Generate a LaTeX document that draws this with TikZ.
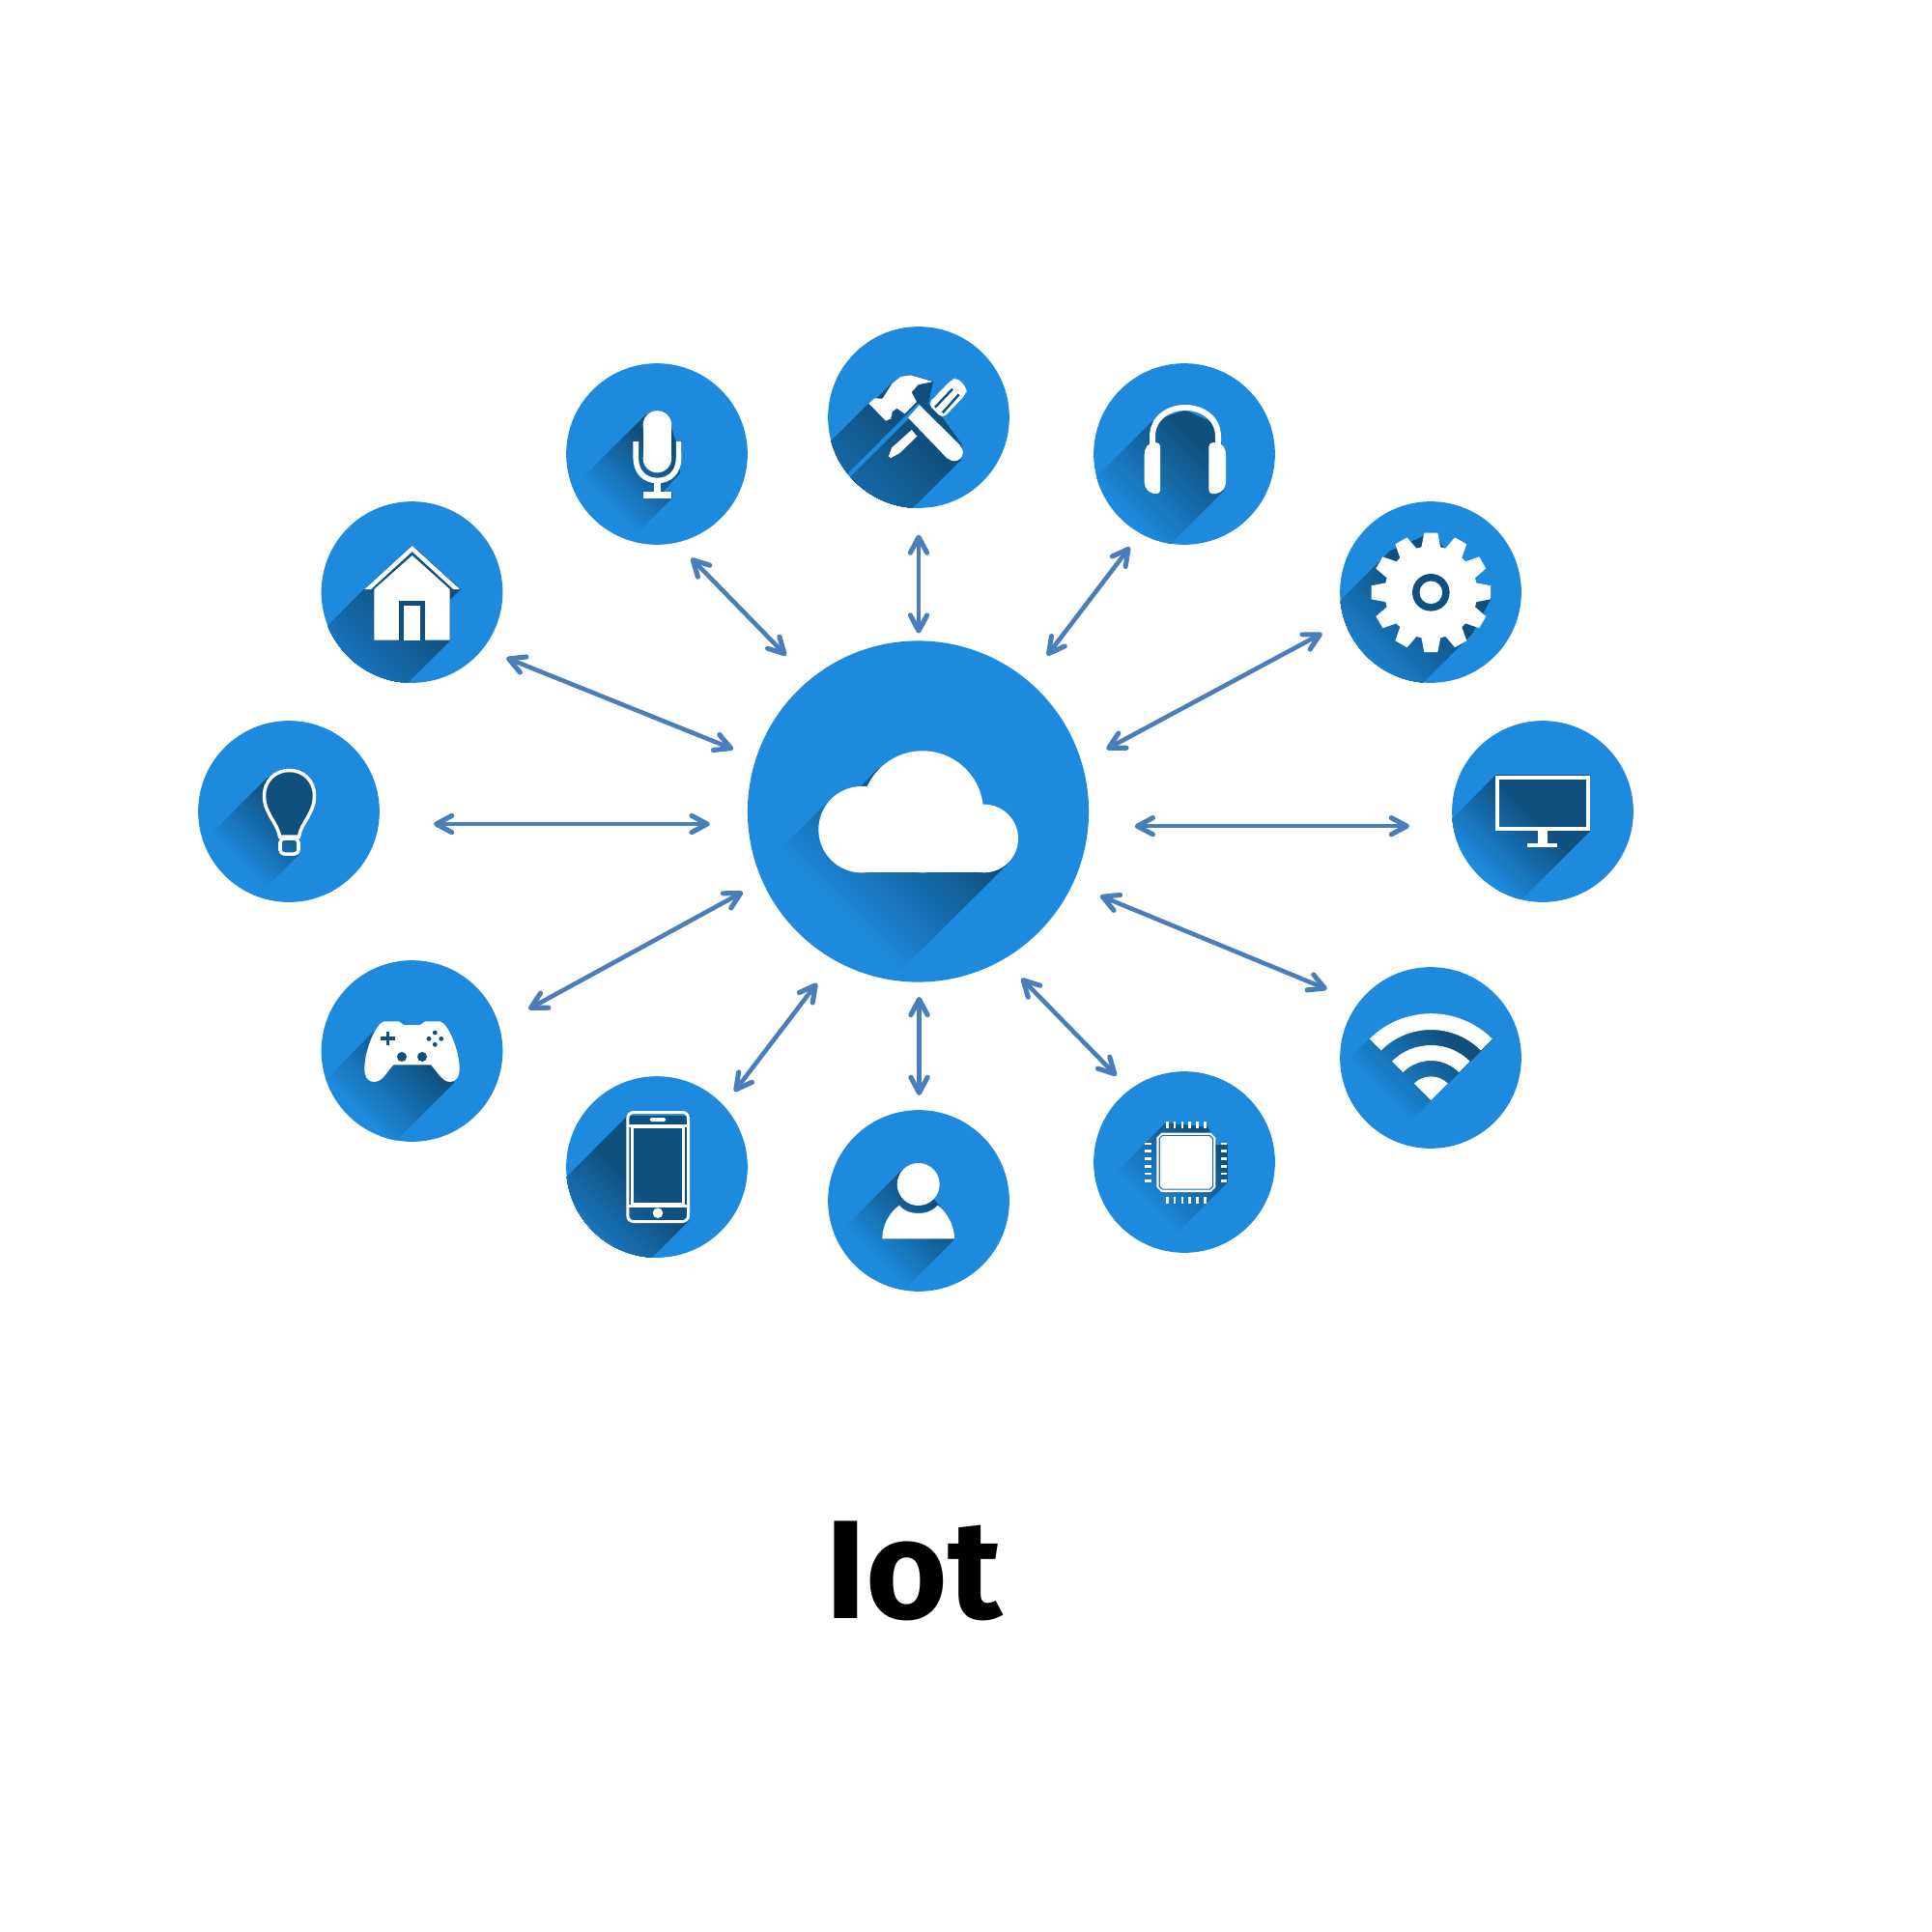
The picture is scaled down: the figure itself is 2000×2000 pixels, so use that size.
\documentclass[tikz,border=0pt]{standalone}
\usepackage{fontspec}
\newfontfamily\titlefont{Fira Sans}[BoldFont={Fira Sans Bold}]
\usetikzlibrary{arrows.meta}
\definecolor{blu}{HTML}{1D8ADD}
\definecolor{dk}{HTML}{10507F}
\definecolor{lnk}{HTML}{4A7EBB}
\definecolor{chipgap}{HTML}{1A68A5}
\tikzset{
  dev/.style={circle,fill=blu,draw=none,inner sep=0pt,outer sep=0pt,minimum size=1.876cm},
  hub/.style={circle,fill=blu,draw=none,inner sep=0pt,outer sep=0pt,minimum size=3.53cm},
  link/.style={draw=lnk,line width=1.3pt,{Straight Barb[length=4.6pt,width=4.9pt,line width=1.45pt,round]}-{Straight Barb[length=4.6pt,width=4.9pt,line width=1.45pt,round]}},
  ink/.style={fill=white,draw=none},
  inkline/.style={draw=white,fill=none}
}
% cx, cy, r, t0 (gradient starts), t1 (gradient full), polygon
\newcommand{\longshadow}[6]{%
  \begin{scope}
    \clip (#1,#2) circle[radius=#3];
    \clip #6;
    \foreach \k in {0,...,30}{%
      \pgfmathsetmacro\tneg{-(#4+(#5-#4)*\k/30)}%
      \pgfmathsetmacro\pp{100*\k/30}%
      \fill[dk!\pp!blu,shift={(#1,#2)},rotate=45] (\tneg,-400) rectangle (400,400);
    }
  \end{scope}}
\begin{document}
\begin{tikzpicture}[x=0.01cm,y=-0.01cm]
\useasboundingbox (0,0) rectangle (2000,2000);
\fill[white] (0,0) rectangle (2000,2000);

% discs
\node[hub] (cloud) at (950.5,840) {};
\node[dev] (home) at (426.5,613) {};
\node[dev] (bulb) at (299,840) {};
\node[dev] (mic) at (680,470) {};
\node[dev] (tools) at (951,432) {};
\node[dev] (phones) at (1226,470) {};
\node[dev] (gear) at (1481,613) {};
\node[dev] (monitor) at (1597,840) {};
\node[dev] (wifi) at (1481,1095) {};
\node[dev] (chip) at (1226,1203) {};
\node[dev] (person) at (951,1243) {};
\node[dev] (phone) at (680,1208) {};
\node[dev] (pad) at (426.5,1088) {};

% ---------- cloud
\longshadow{950.5}{840}{176.5}{135}{-10}{(860,827) -- (560,1127) -- (743.6,1192.9) -- (1043.6,892.9) -- (955,841) -- (909.7,795.7) -- (893,812.4) -- (892,858) -- cycle}
\fill[ink] (892,858.7) circle[radius=44.7];
\fill[ink] (1018.7,868) circle[radius=35.3];
\fill[ink] (955,840.3) circle[radius=63];
\fill[ink] (892,840) rectangle (1018.7,903.3);

% ---------- home
\longshadow{426.5}{613}{93.8}{150}{10}{(377.3,610) -- (77.3,910) -- (165.7,962.7) -- (465.7,662.7) -- (465.7,620.3) -- (476,610) -- (426.7,565) -- cycle}
\fill[ink] (377.3,610) -- (426.7,565) -- (476,610) -- (469.3,610) -- (426.7,571) -- (384,610) -- cycle;
\fill[ink] (387.3,662.7) -- (387.3,610) -- (426.7,575) -- (465.7,610) -- (465.7,662.7) -- cycle;
\fill[dk] (413.3,621.7) rectangle (440,662.7);
\fill[ink] (418.3,627) rectangle (435,662.7);

% ---------- bulb
\longshadow{299}{840}{93.8}{75}{0}{(276,806) -- (-24,1106) -- (9,1184.5) -- (309,884.5) -- (310,866) -- (327,824) -- (299.5,796) -- cycle}
\draw[draw=white,fill=dk,line width=1pt] (289.5,866) .. controls (287.5,852) and (273.5,842) .. (273.5,824) .. controls (273.5,808) and (285,797.5) .. (299.5,797.5) .. controls (314,797.5) and (325.5,808) .. (325.5,824) .. controls (325.5,842) and (311.5,852) .. (309.5,866) -- cycle;
\draw[inkline,line width=1pt,rounded corners=1.2pt] (290,868) rectangle (309,884);

% ---------- mic
\longshadow{680}{470}{93.8}{75}{0}{(668,430) -- (368,730) -- (395.2,815.7) -- (695.2,515.7) -- (695.2,509.3) -- (686,509) -- (703,490) -- (706,457) -- (699,457) -- (694,441) -- (680.4,427) -- cycle}
\fill[ink] (680.4,440) circle[radius=14.8];
\fill[ink] (680.4,474.5) circle[radius=14.8];
\fill[ink] (665.6,440) rectangle (695.2,474.5);
\draw[inkline,line width=1.6pt] (658.2,457) -- (658.2,474) .. controls (658.2,489) and (668,497.5) .. (680.4,497.5) .. controls (693,497.5) and (702.6,489) .. (702.6,474) -- (702.6,457);
\fill[ink] (676.8,497) rectangle (684,510);
\fill[ink] (665.6,509.3) rectangle (695.2,515.7);

% ---------- tools
\longshadow{951}{432}{93.8}{210}{20}{(899.3,417.7) -- (599.3,717.7) -- (694,776) -- (994,476) -- (995,460) -- (975.8,433.3) -- (960.5,418.3) -- (965.6,395) -- (942,388) -- (923.3,397.3) -- (906,414.7) -- cycle}
\begin{scope}
  \clip (951,432) circle[radius=93.8];
  \draw[blu,line width=1.2pt] (951.8,419) -- (851.8,519);
\end{scope}
\fill[ink] (899.3,417.7) -- (905.4,412.3) -- (913.6,412.7) -- (923.3,397.3) -- (932.4,390) -- (942.7,388.3) -- (965.6,395) -- (950.3,398.3) -- (943.7,406) -- (948.8,416) -- (936.5,428.3) -- (928.4,422.7) -- (923.8,426) -- (922.2,433.3) -- (917.1,435.7) -- cycle;
\fill[ink] (951.8,419.3) -- (940,432.3) -- (981,475) -- (994,461) -- cycle;
\fill[ink] (987.8,468.3) circle[radius=9];
\fill[ink,rounded corners=1.5pt] (960.5,418.3) -- (985,393) -- (991,391) -- (1001,402) -- (1000,408) -- (975.8,433.3) -- cycle;
\draw[dk,line width=0.7pt] (968,421.7) -- (986,402.7);
\draw[dk,line width=0.7pt] (975.8,427.3) -- (992.7,408.3);
\fill[ink] (943.7,445) -- (949.3,451.7) -- (931.4,469) -- (922.2,474) -- (919.7,472.7) -- (923.3,463.3) -- cycle;

% ---------- headphones
\longshadow{1226}{470}{93.8}{90}{-15}{(1192.7,436.7) -- (892.7,736.7) -- (966,808) -- (1266,508) -- (1264,458) -- (1260,440) -- (1227,425) -- cycle}
\draw[inkline,line width=1.7pt] (1193,462) -- (1193,452) .. controls (1193,433) and (1209,422) .. (1227,422) .. controls (1245,422) and (1261,433) .. (1261,452) -- (1261,462);
\fill[ink,rounded corners=1.3pt] (1201.2,458) -- (1190,458) -- (1184.5,466) -- (1184.5,503) -- (1190,510.5) -- (1201.2,511.7) -- cycle;
\fill[ink,rounded corners=1.3pt] (1251.3,458) -- (1263.5,458) -- (1269.2,466) -- (1269.2,503) -- (1263.5,510.5) -- (1251.3,511.7) -- cycle;

% ---------- gear
\longshadow{1481}{613}{93.8}{115}{10}{(1438.9,570.9) -- (1138.9,870.9) -- (1223.7,955.7) -- (1523.7,655.7) -- (1543,620) -- (1481,552) -- cycle}
\fill[ink] (1481.3,613.3) circle[radius=48];
\foreach \a in {0,30,...,330}{
  \fill[ink,shift={(1481.3,613.3)},rotate=\a] (46,-10) -- (61.7,-7) -- (61.7,7) -- (46,10) -- cycle;
}
\fill[dk] (1481.3,613.3) circle[radius=19.3];
\fill[ink] (1481.3,613.3) circle[radius=11.8];

% ---------- monitor
\longshadow{1597}{840}{93.8}{90}{10}{(1548.3,802.8) -- (1248.3,1102.8) -- (1345.7,1160) -- (1645.7,860) -- (1645.7,802.8) -- cycle}
\draw[inkline,line width=1.15pt] (1550.3,804.8) rectangle (1643.7,858);
\fill[ink] (1591.7,860) rectangle (1602.3,873);
\fill[ink] (1581,872.5) rectangle (1612.3,877);

% ---------- wifi
\longshadow{1481}{1095}{93.8}{65}{-25}{(1417.7,1075.7) -- (1117.7,1375.7) -- (1244.7,1375.7) -- (1544.7,1075.7) -- (1481,1049) -- cycle}
\begin{scope}[shift={(1481.3,1139)}]
  \fill[ink] (-135:89.8) arc[start angle=-135,end angle=-45,radius=89.8] -- (-45:73) arc[start angle=-45,end angle=-135,radius=73] -- cycle;
  \fill[ink] (-135:57) arc[start angle=-135,end angle=-45,radius=57] -- (-45:41) arc[start angle=-45,end angle=-135,radius=41] -- cycle;
  \fill[ink] (0,0) -- (-135:24.6) arc[start angle=-135,end angle=-45,radius=24.6] -- cycle;
\end{scope}

% ---------- chip
\longshadow{1226}{1203}{93.8}{60}{-30}{(1206.7,1163) -- (906.7,1463) -- (970,1524) -- (1270,1224) -- (1270,1185) -- (1258.3,1185) -- (1250,1167) -- cycle}
\fill[ink] (1202.3,1172.7) -- (1253.3,1172.7) -- (1258.3,1177.7) -- (1258.3,1229) -- (1253.3,1234) -- (1202.3,1234) -- (1197.3,1229) -- (1197.3,1177.7) -- cycle;
\fill[chipgap] (1203,1175) -- (1252.6,1175) -- (1256,1178.4) -- (1256,1228.3) -- (1252.6,1231.7) -- (1203,1231.7) -- (1199.6,1228.3) -- (1199.6,1178.4) -- cycle;
\fill[ink] (1203.5,1176.2) -- (1252.1,1176.2) -- (1254.8,1178.9) -- (1254.8,1227.8) -- (1252.1,1230.5) -- (1203.5,1230.5) -- (1200.8,1227.8) -- (1200.8,1178.9) -- cycle;
\foreach \k in {0,...,5}{
  \pgfmathsetmacro\px{1208.3+7.8*\k}
  \pgfmathsetmacro\py{1184+7.73*\k}
  \fill[ink] (\px-1.3,1161.3) rectangle (\px+1.3,1167.7);
  \fill[ink] (\px-1.3,1239.3) rectangle (\px+1.3,1245.7);
  \fill[ink] (1185.3,\py-1.3) rectangle (1192,\py+1.3);
  \fill[ink] (1263.7,\py-1.3) rectangle (1270,\py+1.3);
}

% ---------- person
\longshadow{951}{1243}{93.8}{75}{-5}{(935.1,1210.4) -- (635.1,1510.4) -- (688,1582.3) -- (988,1282.3) -- (972,1248) -- (966.3,1241.6) -- (950,1226) -- cycle}
\fill[ink] (950.7,1226) circle[radius=22];
\fill[ink] (913.3,1282.3) .. controls (913.3,1268) and (921,1255) .. (931,1247.7) .. controls (936,1254) and (943,1256) .. (950.7,1256) .. controls (958,1256) and (965,1254) .. (970.7,1247.7) .. controls (980,1255) and (988,1268) .. (988,1282.3) -- cycle;

% ---------- phone
\longshadow{680}{1208}{93.8}{135}{30}{(650,1155) -- (350,1455) -- (412,1564) -- (712,1264) -- (714,1155) -- cycle}
\draw[inkline,line width=0.85pt,rounded corners=1.7pt] (649.8,1151.5) rectangle (712.5,1264.5);
\draw[inkline,line width=0.85pt] (654.8,1166.5) rectangle (707.5,1246.5);
\draw[inkline,line width=0.85pt] (649.8,1165) -- (712.5,1165);
\draw[inkline,line width=0.85pt] (649.8,1248) -- (712.5,1248);
\fill[ink,rounded corners=0.5pt] (672.7,1157) rectangle (689.3,1161);
\fill[ink] (681,1255.7) circle[radius=5.3];

% ---------- game pad
\longshadow{426.5}{1088}{93.8}{85}{0}{(386.7,1068.3) -- (86.7,1368.3) -- (170,1420) -- (470,1120) -- (465,1103) -- (446,1102) -- (400,1090) -- cycle}
\fill[ink] (398,1057.3) -- (413,1057.3) .. controls (415,1057.5) and (416,1061) .. (418,1061) -- (435,1061) .. controls (437,1061) and (438,1057.5) .. (440,1057.3) -- (455,1057.3) .. controls (463,1058) and (475,1085) .. (475.7,1105) .. controls (476,1115) and (472,1120) .. (466,1120) .. controls (458,1120) and (453,1110) .. (446,1102.3) -- (407.3,1102.3) .. controls (400,1110) and (396,1120) .. (387,1120) .. controls (381,1120) and (377,1115) .. (377.3,1105) .. controls (378,1085) and (390,1058) .. (398,1057.3) -- cycle;
\draw[dk,line width=0.95pt] (394,1075) -- (408.6,1075);
\draw[dk,line width=0.95pt] (401.3,1067.7) -- (401.3,1082.3);
\fill[dk] (416,1094) circle[radius=5];
\fill[dk] (437,1094) circle[radius=5];
\fill[dk] (444,1075.3) circle[radius=2.4];
\fill[dk] (456.7,1075.3) circle[radius=2.4];
\fill[dk] (450.3,1069) circle[radius=2.4];
\fill[dk] (450.3,1081.3) circle[radius=2.4];

% ---------- connectors
\coordinate (micA) at (715.5,577.8);   \coordinate (micB) at (813.8,678.6);
\coordinate (toolsA) at (951,553.5);   \coordinate (toolsB) at (951,655.6);
\coordinate (phonesA) at (1169.6,566.3); \coordinate (phonesB) at (1084,678.6);
\coordinate (gearA) at (1368.6,655.6); \coordinate (gearB) at (1145.4,775.5);
\coordinate (monitorA) at (1174.7,855.2); \coordinate (monitorB) at (1459,855.2);
\coordinate (wifiA) at (1373.7,1024);  \coordinate (wifiB) at (1139,927.3);
\coordinate (chipA) at (1155.6,1113.5); \coordinate (chipB) at (1057.4,1012.8);
\coordinate (personA) at (951.5,1031.9); \coordinate (personB) at (951.5,1133.9);
\coordinate (phoneA) at (760.2,1130);  \coordinate (phoneB) at (845.7,1017.8);
\coordinate (padA) at (547.2,1044.6);  \coordinate (padB) at (769,923.4);
\coordinate (bulbA) at (449,853);      \coordinate (bulbB) at (734.7,853);
\coordinate (homeA) at (524.2,681);    \coordinate (homeB) at (759,775.5);
\foreach \n in {mic,tools,phones,gear,monitor,wifi,chip,person,phone,pad,bulb,home}{
  \draw[link] (\n A) -- (\n B);
}

% ---------- title
\node[anchor=base,inner sep=0pt,font=\titlefont\bfseries\fontsize{41.3}{50}\selectfont] (title) at (946,1675) {Iot};
\end{tikzpicture}
\end{document}
